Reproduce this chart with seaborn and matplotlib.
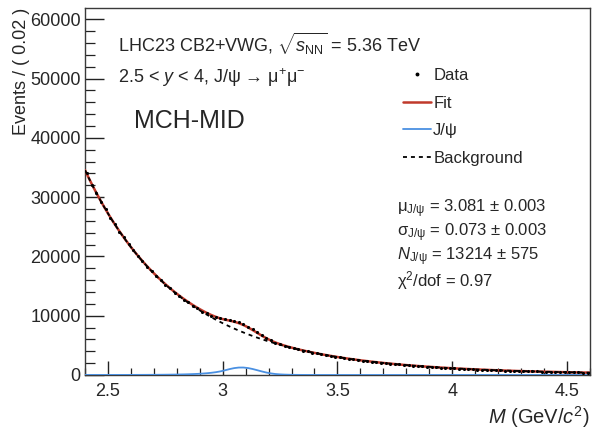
import math
import numpy as np
import pandas as pd
import matplotlib
matplotlib.use("Agg")
import matplotlib.pyplot as plt
from matplotlib.ticker import MultipleLocator, AutoMinorLocator, FuncFormatter
from matplotlib.lines import Line2D
import seaborn as sns

# ---- binning: 110 bins of 0.02 GeV/c^2 between 2.4 and 4.6 ----
x_min, x_max, bin_width = 2.40, 4.60, 0.02

# Events per bin (dimuon invariant mass)
data_counts = [
    34010, 32050, 30720, 29180, 28010, 26540, 25460, 24150, 23200, 22010,
    21120, 20050, 19260, 18290, 17580, 16680, 16040, 15220, 14650, 13900,
    13380, 12700, 12230, 11650, 11230, 10700, 10400, 10010, 9830, 9560,
    9480, 9270, 9180, 8890, 8640, 8170, 7760, 7190, 6760, 6230,
    5880, 5470, 5220, 4920, 4730, 4470, 4330, 4110, 3980, 3780,
    3670, 3480, 3380, 3200, 3110, 2950, 2870, 2720, 2650, 2510,
    2440, 2310, 2260, 2140, 2090, 1970, 1930, 1820, 1790, 1690,
    1650, 1560, 1530, 1440, 1420, 1340, 1320, 1240, 1220, 1150,
    1130, 1070, 1050, 990, 975, 920, 905, 855, 840, 795,
    785, 740, 730, 690, 680, 640, 632, 598, 590, 556,
    550, 520, 512, 485, 478, 452, 446, 422, 417, 395,
]

# VWG background at the lower edge, every bin centre, and the upper edge
background_curve = [
    34544,
    33729, 32160, 30669, 29249, 27900, 26615, 25394, 24231, 23125, 22073,
    21070, 20116, 19207, 18342, 17518, 16733, 15985, 15273, 14594, 13947,
    13331, 12743, 12183, 11649, 11140, 10654, 10191, 9750, 9328, 8927,
    8543, 8177, 7828, 7494, 7176, 6872, 6581, 6304, 6039, 5786,
    5545, 5314, 5094, 4883, 4682, 4489, 4305, 4128, 3960, 3799,
    3645, 3498, 3357, 3222, 3093, 2970, 2852, 2738, 2630, 2526,
    2427, 2332, 2241, 2153, 2070, 1990, 1913, 1840, 1769, 1702,
    1637, 1575, 1515, 1458, 1403, 1351, 1300, 1252, 1205, 1161,
    1118, 1077, 1038, 1000, 963, 929, 895, 863, 832, 802,
    774, 746, 720, 695, 670, 647, 624, 603, 582, 562,
    542, 524, 506, 489, 472, 456, 441, 426, 412, 398,
    392,
]

# J/psi signal (CB2) fit results
jpsi_mean = 3.081
jpsi_sigma = 0.073
jpsi_yield = 13214
tail_alpha_left, tail_n_left = 0.98, 6.97
tail_alpha_right, tail_n_right = 1.86, 14.99

header_lines = [
    r"LHC23 CB2+VWG, $\sqrt{s_{\mathrm{NN}}}$ = 5.36 TeV",
    r"2.5 < $y$ < 4, J/ψ → $\mathrm{μ}^{+}\mathrm{μ}^{-}$",
]
detector_label = "MCH-MID"
fit_summary = [
    r"$\mathrm{μ}_{\mathrm{J/ψ}}$ = 3.081 ± 0.003",
    r"$\mathrm{σ}_{\mathrm{J/ψ}}$ = 0.073 ± 0.003",
    r"$N_{\mathrm{J/ψ}}$ = 13214 ± 575",
    r"$\mathrm{χ}^{2}$/dof = 0.97",
]


def crystal_ball2(x, mu, sigma, aL, nL, aR, nR):
    t = (np.asarray(x) - mu) / sigma
    y = np.exp(-0.5 * t ** 2)
    lo = t < -aL
    hi = t > aR
    y[lo] = np.exp(-0.5 * aL ** 2) * ((nL / aL) / (nL / aL - aL - t[lo])) ** nL
    y[hi] = np.exp(-0.5 * aR ** 2) * ((nR / aR) / (nR / aR - aR + t[hi])) ** nR
    area = sigma * (math.sqrt(math.pi / 2) * (math.erf(aL / math.sqrt(2)) + math.erf(aR / math.sqrt(2)))
                    + nL / aL / (nL - 1) * math.exp(-0.5 * aL ** 2)
                    + nR / aR / (nR - 1) * math.exp(-0.5 * aR ** 2))
    return y / area


edges = np.linspace(x_min, x_max, len(data_counts) + 1)
centers = 0.5 * (edges[:-1] + edges[1:])
curve_x = np.concatenate([[edges[0]], centers, [edges[-1]]])

signal_curve = jpsi_yield * bin_width * crystal_ball2(
    curve_x, jpsi_mean, jpsi_sigma,
    tail_alpha_left, tail_n_left, tail_alpha_right, tail_n_right)
background = np.asarray(background_curve, dtype=float)

curves = pd.DataFrame({
    "M": curve_x,
    "background": background,
    "signal": signal_curve,
    "fit": background + signal_curve,
})
points = pd.DataFrame({"M": centers, "counts": np.asarray(data_counts, dtype=float)})

# ---- style ----
sns.set_style("white")
plt.rcParams["font.family"] = ["Liberation Sans", "DejaVu Sans"]
plt.rcParams["mathtext.fontset"] = "custom"
plt.rcParams["mathtext.rm"] = "Liberation Sans"
plt.rcParams["mathtext.it"] = "Liberation Sans:italic"
plt.rcParams["mathtext.bf"] = "Liberation Sans:bold"

fit_red = "#c0392b"
jpsi_blue = "#4a90e2"
dash = (0, (2.2, 2.2))

fig = plt.figure(figsize=(5.97, 4.33), dpi=100)
ax = fig.add_axes([0.1424, 0.134, 0.8456, 0.8475])

sns.lineplot(data=curves, x="M", y="signal", ax=ax, color=jpsi_blue, lw=1.3, zorder=3)
sns.lineplot(data=curves, x="M", y="fit", ax=ax, color=fit_red, lw=1.8, zorder=4)
sns.lineplot(data=curves, x="M", y="background", ax=ax, color="black", lw=1.3,
             linestyle=dash, zorder=5)
ax.errorbar(points["M"], points["counts"], yerr=np.sqrt(points["counts"]), fmt="none",
            ecolor="black", elinewidth=0.8, zorder=6)
sns.scatterplot(data=points, x="M", y="counts", ax=ax, color="black", s=5,
                linewidth=0, zorder=7)

ax.set_xlim(x_min, x_max)
ax.set_ylim(0, 61900)

# axes frame and ticks (inward, left and bottom only)
for side in ax.spines.values():
    side.set_color("#3a3a3a")
    side.set_linewidth(1.0)
ax.xaxis.set_major_locator(MultipleLocator(0.5))
ax.xaxis.set_minor_locator(MultipleLocator(0.1))
ax.yaxis.set_major_locator(MultipleLocator(10000))
ax.yaxis.set_minor_locator(AutoMinorLocator(5))
ax.xaxis.set_major_formatter(FuncFormatter(lambda v, _: f"{v:g}"))
ax.yaxis.set_major_formatter(FuncFormatter(lambda v, _: f"{v:.0f}"))
ax.tick_params(which="both", bottom=True, left=True, top=False, right=False)
ax.tick_params(axis="x", which="major", direction="in", length=10, width=1.0,
               labelsize=13, pad=6, color="#222222")
ax.tick_params(axis="x", which="minor", direction="in", length=5, width=0.9, color="#222222")
ax.tick_params(axis="y", which="major", direction="in", length=14, width=1.0,
               labelsize=13, pad=3, color="#222222")
ax.tick_params(axis="y", which="minor", direction="in", length=7, width=0.9, color="#222222")

ax.set_xlabel(r"$M$ (GeV/$c^{2}$)", fontsize=14.5, loc="right", labelpad=3)
ax.set_ylabel("Events / ( 0.02 )", fontsize=13, loc="top", labelpad=0.5)

# annotations
ax.text(0.065, 0.903, header_lines[0], transform=ax.transAxes, fontsize=13, va="center", ha="left")
ax.text(0.065, 0.81, header_lines[1], transform=ax.transAxes, fontsize=13, va="center", ha="left")
ax.text(0.097, 0.692, detector_label, transform=ax.transAxes, fontsize=18, va="center", ha="left")
for i, line in enumerate(fit_summary):
    ax.text(0.618, 0.452 - i * 0.0648, line, transform=ax.transAxes, fontsize=12,
            va="center", ha="left")

handles = [
    Line2D([], [], marker="o", markersize=1.8, color="black", linestyle="none"),
    Line2D([], [], color=fit_red, lw=1.8),
    Line2D([], [], color=jpsi_blue, lw=1.3),
    Line2D([], [], color="black", lw=1.3, linestyle=dash),
]
ax.legend(handles, ["Data", "Fit", "J/ψ", "Background"], loc="upper left",
          bbox_to_anchor=(0.617, 0.855), frameon=False, fontsize=12,
          handlelength=1.7, handletextpad=0.1, labelspacing=0.76, borderaxespad=0)

fig.savefig("out.png", dpi=100)
